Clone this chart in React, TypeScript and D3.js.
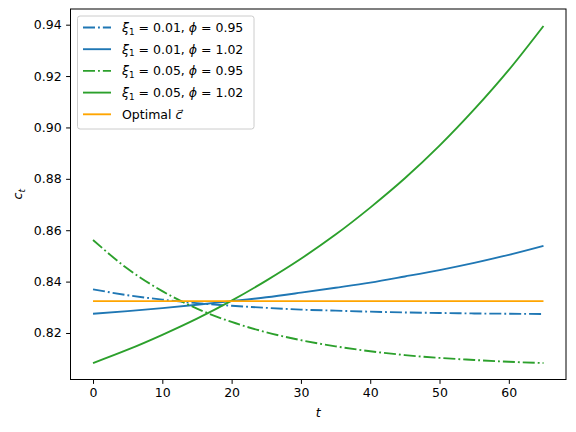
import { useEffect, useRef } from 'react'
import * as d3 from 'd3'

// time grid (every 5 periods)
const tValues = [0, 5, 10, 15, 20, 25, 30, 35, 40, 45, 50, 55, 60, 65]

const xi01Phi095 = [0.837, 0.8347, 0.833, 0.8316, 0.8306, 0.8298, 0.8291, 0.8287, 0.8283, 0.828, 0.8278, 0.8276, 0.8275, 0.8274]
const xi01Phi102 = [0.8275, 0.8285, 0.8297, 0.831, 0.8324, 0.8339, 0.8357, 0.8376, 0.8396, 0.842, 0.8445, 0.8473, 0.8504, 0.8539]
const xi05Phi095 = [0.8562, 0.845, 0.8363, 0.8295, 0.8243, 0.8203, 0.8172, 0.8148, 0.8129, 0.8114, 0.8103, 0.8095, 0.8088, 0.8083]
const xi05Phi102 = [0.8083, 0.8135, 0.8193, 0.8256, 0.8326, 0.8404, 0.8489, 0.8583, 0.8688, 0.8802, 0.8929, 0.907, 0.9224, 0.9395]
const optimalC = [0.8324, 0.8324, 0.8324, 0.8324, 0.8324, 0.8324, 0.8324, 0.8324, 0.8324, 0.8324, 0.8324, 0.8324, 0.8324, 0.8324]

const xTicks = [0, 10, 20, 30, 40, 50, 60]
const yTicks = [0.82, 0.84, 0.86, 0.88, 0.9, 0.92, 0.94]

const series = [
  { xi: '0.01', phi: '0.95', values: xi01Phi095, color: '#1f77b4', dash: true },
  { xi: '0.01', phi: '1.02', values: xi01Phi102, color: '#1f77b4', dash: false },
  { xi: '0.05', phi: '0.95', values: xi05Phi095, color: '#2ca02c', dash: true },
  { xi: '0.05', phi: '1.02', values: xi05Phi102, color: '#2ca02c', dash: false },
]

const FONT = 'DejaVu Sans, sans-serif'

export default function App() {
  const svgRef = useRef<SVGSVGElement>(null)

  useEffect(() => {
    if (!svgRef.current) return
    const width = 576
    const height = 432
    const left = 70.5, right = 566, top = 9, bottom = 379.5

    const svg = d3.select(svgRef.current)
    svg.selectAll('*').remove()
    svg.attr('width', width).attr('height', height)

    svg.append('rect').attr('width', width).attr('height', height).attr('fill', '#fff')

    const xScale = d3.scaleLinear().domain([-3.25, 68.25]).range([left, right])
    const yScale = d3.scaleLinear().domain([0.8019, 0.9461]).range([bottom, top])

    const line = d3.line<number>()
      .x((_, i) => xScale(tValues[i]))
      .y(d => yScale(d))
      .curve(d3.curveMonotoneX)

    const plot = svg.append('g')
    series.forEach(s => {
      plot.append('path')
        .datum(s.values)
        .attr('fill', 'none')
        .attr('stroke', s.color)
        .attr('stroke-width', 1.875)
        .attr('stroke-dasharray', s.dash ? '12 3 1.875 3' : null)
        .attr('d', line)
    })
    plot.append('path')
      .datum(optimalC)
      .attr('fill', 'none')
      .attr('stroke', '#ffa500')
      .attr('stroke-width', 1.875)
      .attr('d', line)

    // Axes
    const xAxis = svg.append('g')
      .attr('transform', `translate(0,${bottom})`)
      .call(d3.axisBottom(xScale).tickValues(xTicks).tickSize(4.4).tickPadding(4.4).tickFormat(d3.format('d')))
    const yAxis = svg.append('g')
      .attr('transform', `translate(${left},0)`)
      .call(d3.axisLeft(yScale).tickValues(yTicks).tickSize(4.4).tickPadding(4.4).tickFormat(d3.format('.2f')))
    ;[xAxis, yAxis].forEach(ax => {
      ax.select('.domain').remove()
      ax.selectAll('.tick line').attr('stroke', '#000').attr('stroke-width', 1)
      ax.selectAll('.tick text').attr('fill', '#000').attr('font-size', '12.5px').attr('font-family', FONT)
    })

    // Spines
    svg.append('rect')
      .attr('x', left).attr('y', top)
      .attr('width', right - left).attr('height', bottom - top)
      .attr('fill', 'none').attr('stroke', '#000').attr('stroke-width', 1)

    // Axis labels
    const xl = svg.append('text')
      .attr('x', (left + right) / 2).attr('y', 417)
      .attr('text-anchor', 'middle').attr('font-family', FONT).attr('font-size', '12.5px')
    xl.append('tspan').attr('font-style', 'italic').text('t')

    const yl = svg.append('text')
      .attr('transform', `translate(22,${(top + bottom) / 2}) rotate(-90)`)
      .attr('text-anchor', 'middle').attr('font-family', FONT).attr('font-size', '12.5px')
    yl.append('tspan').attr('font-style', 'italic').text('c')
    yl.append('tspan').attr('font-style', 'italic').attr('font-size', '9px').attr('dy', 2.5).text('t')

    // Legend
    const legend = svg.append('g')
    legend.append('rect')
      .attr('x', 77.5).attr('y', 16).attr('width', 176.5).attr('height', 113)
      .attr('rx', 2.5)
      .attr('fill', '#fff').attr('fill-opacity', 0.8)
      .attr('stroke', '#cccccc').attr('stroke-width', 1)

    const rowY = (i: number) => 27.5 + i * 21.7
    series.forEach((s, i) => {
      const y = rowY(i)
      legend.append('line')
        .attr('x1', 83).attr('x2', 111).attr('y1', y).attr('y2', y)
        .attr('stroke', s.color).attr('stroke-width', 1.875)
        .attr('stroke-dasharray', s.dash ? '12 3 1.875 3' : null)
      const t = legend.append('text')
        .attr('x', 122).attr('y', y + 4.5)
        .attr('font-family', FONT).attr('font-size', '12.5px').attr('fill', '#000')
      t.append('tspan').attr('font-style', 'italic').text('ξ')
      t.append('tspan').attr('font-size', '8.8px').attr('dy', 2.5).text('1')
      t.append('tspan').attr('dy', -2.5).text(` = ${s.xi}, `)
      t.append('tspan').attr('font-style', 'italic').text('ϕ')
      t.append('tspan').text(` = ${s.phi}`)
    })
    const oy = rowY(4)
    legend.append('line')
      .attr('x1', 83).attr('x2', 111).attr('y1', oy).attr('y2', oy)
      .attr('stroke', '#ffa500').attr('stroke-width', 1.875)
    const ot = legend.append('text')
      .attr('x', 122).attr('y', oy + 4.5)
      .attr('font-family', FONT).attr('font-size', '12.5px').attr('fill', '#000')
    ot.append('tspan').text('Optimal ')
    ot.append('tspan').attr('font-style', 'italic').text('c\u20D7')
  }, [])

  return (
    <div style={{ position: 'absolute', left: 0, top: 0 }}>
      <svg ref={svgRef} style={{ display: 'block' }} />
    </div>
  )
}
